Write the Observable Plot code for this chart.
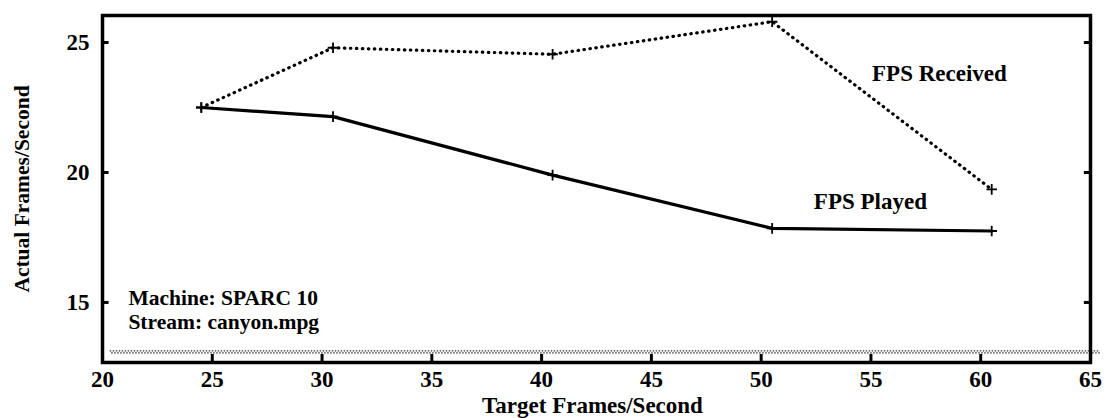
<!DOCTYPE html>
<html>
<head>
<meta charset="utf-8">
<script src="https://cdn.jsdelivr.net/npm/d3@7"></script>
<script src="https://cdn.jsdelivr.net/npm/@observablehq/plot@0.6"></script>
<style>
  html, body { margin: 0; padding: 0; background: #fff; }
  #chart svg { display: block; }
</style>
</head>
<body>
<div id="chart"></div>
<script>
// ---- data ----
const targetFps = [24.5, 30.5, 40.5, 50.5, 60.5];
const fpsPlayed = [22.5, 22.15, 19.9, 17.85, 17.75];
const fpsReceived = [22.5, 24.8, 24.55, 25.8, 19.35];
const xTicks = [20, 25, 30, 35, 40, 45, 50, 55, 60, 65];
const yTicks = [15, 20, 25];
const baselineValue = 13.1;
const seriesLabels = [
  {text: "FPS Received", x: 55.05, y: 23.8},
  {text: "FPS Played", x: 52.4, y: 18.87}
];
const noteLabels = [
  {text: "Machine: SPARC 10", x: 21.18, y: 15.17},
  {text: "Stream: canyon.mpg", x: 21.18, y: 14.26}
];

const played = targetFps.map((x, i) => ({x, y: fpsPlayed[i]}));
const received = targetFps.map((x, i) => ({x, y: fpsReceived[i]}));

const xDomain = [20, 65];
const yDomain = [12.69, 26.04];
const font = "'Liberation Serif', 'Times New Roman', serif";

const chart = Plot.plot({
  width: 1108,
  height: 418,
  marginLeft: 102,
  marginRight: 18,
  marginTop: 15,
  marginBottom: 56,
  style: {fontFamily: font, fontSize: "23px", fontWeight: "bold", color: "#000", background: "#fff"},
  x: {domain: xDomain},
  y: {domain: yDomain},
  marks: [
    // hatched baseline (two offset dotted rows give the zigzag look)
    Plot.ruleY([baselineValue], {x1: 20.35, x2: 65.45, stroke: "#333", strokeWidth: 1.3, strokeDasharray: "1.5,1.5", dy: -1, clip: false}),
    Plot.ruleY([baselineValue], {x1: 20.35, x2: 65.45, stroke: "#333", strokeWidth: 1.3, strokeDasharray: "1.5,1.5", strokeDashoffset: 1.5, dy: 1, clip: false}),
    // inward ticks
    Plot.ruleY(yTicks, {x1: xDomain[0], x2: 20.3, stroke: "#000", strokeWidth: 3}),
    Plot.ruleY(yTicks, {x1: 64.72, x2: xDomain[1], stroke: "#000", strokeWidth: 3}),
    Plot.ruleX(xTicks.slice(1, -1), {y1: yDomain[0], y2: 13.0, stroke: "#000", strokeWidth: 3}),
    Plot.frame({stroke: "#000", strokeWidth: 3.5}),
    Plot.axisX(xTicks, {tickSize: 0, tickPadding: 8, fontSize: 23, fontWeight: "bold", label: null}),
    Plot.axisY(yTicks, {tickSize: 0, tickPadding: 13, fontSize: 23, fontWeight: "bold", label: null}),
    // lines
    Plot.line(received, {x: "x", y: "y", stroke: "#000", strokeWidth: 3.2, strokeDasharray: "0.5,5.5", strokeLinecap: "round"}),
    Plot.line(played, {x: "x", y: "y", stroke: "#000", strokeWidth: 3.2}),
    Plot.dot(received, {x: "x", y: "y", symbol: "plus", r: 3.5, stroke: "#000", strokeWidth: 1.8}),
    Plot.dot(played, {x: "x", y: "y", symbol: "plus", r: 3.5, stroke: "#000", strokeWidth: 1.8}),
    // labels
    Plot.text(seriesLabels, {x: "x", y: "y", text: "text", textAnchor: "start", lineAnchor: "middle", fontSize: 23, fontWeight: "bold", fill: "#000"}),
    Plot.text(noteLabels, {x: "x", y: "y", text: "text", textAnchor: "start", lineAnchor: "middle", fontSize: 21.5, fontWeight: "bold", fill: "#000"}),
    Plot.text(["Target Frames/Second"], {frameAnchor: "bottom", textAnchor: "middle", dx: -4, dy: 43, lineAnchor: "middle", fontSize: 23, fontWeight: "bold", fill: "#000"}),
    Plot.text(["Actual Frames/Second"], {frameAnchor: "left", textAnchor: "middle", dx: -80, rotate: -90, lineAnchor: "middle", fontSize: 21.5, fontWeight: "bold", fill: "#000"})
  ]
});
document.getElementById("chart").appendChild(chart);
</script>
</body>
</html>
